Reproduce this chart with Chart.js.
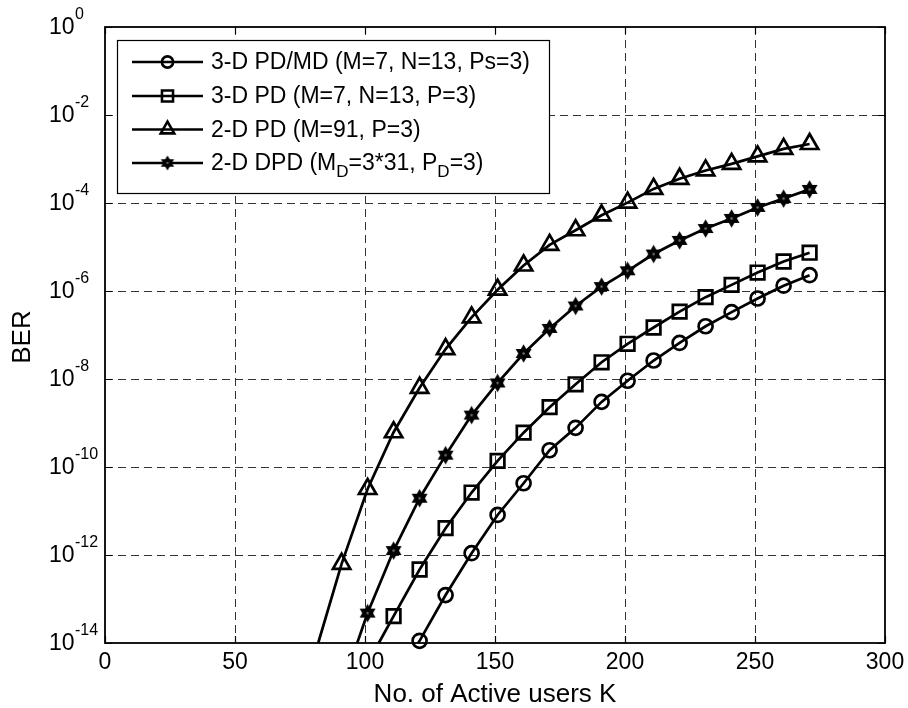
<!DOCTYPE html>
<html><head><meta charset="utf-8">
<script src="https://cdn.jsdelivr.net/npm/chart.js@4/dist/chart.umd.min.js"></script>
<style>
html,body{margin:0;padding:0;background:#fff;}
canvas{display:block;}
</style></head><body>
<canvas id="c" width="908" height="708"></canvas>
<script>
// ---------------- data ----------------
const FONT = '"Liberation Sans", Arial, Helvetica, sans-serif';

// 3-D PD/MD (M=7, N=13, Ps=3)  -- circles
const K_PDMD   = [121,131,141,151,161,171,181,191,201,211,221,231,241,251,261,271];
const BER_PDMD = [1.12e-14,1.23e-13,1.10e-12,8.13e-12,4.27e-11,2.40e-10,7.76e-10,3.02e-9,9.12e-9,2.63e-8,6.61e-8,1.58e-7,3.31e-7,6.76e-7,1.32e-6,2.29e-6];

// 3-D PD (M=7, N=13, P=3)  -- squares
const K_3DPD   = [111,121,131,141,151,161,171,181,191,201,211,221,231,241,251,261,271];
const BER_3DPD = [4.07e-14,4.68e-13,4.07e-12,2.63e-11,1.38e-10,6.03e-10,2.29e-9,7.59e-9,2.40e-8,6.31e-8,1.48e-7,3.39e-7,7.24e-7,1.38e-6,2.63e-6,4.68e-6,7.41e-6];

// 2-D PD (M=91, P=3)  -- triangles
const K_2DPD   = [91,101,111,121,131,141,151,161,171,181,191,201,211,221,231,241,251,261,271];
const BER_2DPD = [6.31e-13,3.16e-11,6.17e-10,6.31e-9,4.79e-8,2.51e-7,1.07e-6,3.80e-6,1.12e-5,2.40e-5,5.25e-5,1.02e-4,2.09e-4,3.55e-4,5.50e-4,7.76e-4,1.15e-3,1.70e-3,2.19e-3];

// 2-D DPD (M_D=3*31, P_D=3)  -- hexagrams
const K_2DDPD   = [101,111,121,131,141,151,161,171,181,191,201,211,221,231,241,251,261,271];
const BER_2DDPD = [4.79e-14,1.26e-12,1.95e-11,1.86e-10,1.51e-9,8.13e-9,3.80e-8,1.41e-7,4.57e-7,1.26e-6,2.88e-6,6.92e-6,1.41e-5,2.63e-5,4.47e-5,7.94e-5,1.26e-4,2.04e-4];

// K where each curve enters the plot through its floor (BER = 1e-14)
const ENTRY_K = [120.4, 105.3, 82, 97];
const BER_FLOOR = 1e-14;

const X_TICKS = [0,50,100,150,200,250,300];
const Y_TICK_EXP = [0,-2,-4,-6,-8,-10,-12,-14];
const X_TITLE = 'No. of Active users K';
const Y_TITLE = 'BER';
const LEGEND_PARTS = [
  [{t:'3-D PD/MD (M=7, N=13, Ps=3)'}],
  [{t:'3-D PD (M=7, N=13, P=3)'}],
  [{t:'2-D PD (M=91, P=3)'}],
  [{t:'2-D DPD (M'},{t:'D',sub:true},{t:'=3*31, P'},{t:'D',sub:true},{t:'=3)'}]
];

// ---------------- hexagram marker ----------------
function makeHexagram(R, lw){
  const s = Math.ceil(2*R + 2*lw + 2);
  const cv = document.createElement('canvas');
  cv.width = s; cv.height = s;
  const g = cv.getContext('2d');
  const c = s/2, r = R/Math.sqrt(3);
  g.beginPath();
  for(let i=0;i<6;i++){
    const ao = (-90 + 60*i)*Math.PI/180, ai = (-60 + 60*i)*Math.PI/180;
    const xo = c + R*Math.cos(ao), yo = c + R*Math.sin(ao);
    if(i===0) g.moveTo(xo,yo); else g.lineTo(xo,yo);
    g.lineTo(c + r*Math.cos(ai), c + r*Math.sin(ai));
  }
  g.closePath();
  g.lineJoin='miter';
  g.fillStyle='#000';
  g.fill();
  g.lineWidth = lw; g.strokeStyle='#000';
  g.stroke();
  g.fillStyle='#777';
  g.beginPath(); g.arc(c, c, R*0.16, 0, Math.PI*2); g.fill();
  return cv;
}
const HEX = makeHexagram(7.6, 1.6);
const HEX_SMALL = makeHexagram(6.2, 1.4);

const STYLES = [
  {pointStyle:'circle',   radius:7,   legend:'circle',   legendRadius:5.6},
  {pointStyle:'rect',     radius:9.6, legend:'rect',     legendRadius:7.8},
  {pointStyle:'triangle', radius:10,  legend:'triangle', legendRadius:7.8},
  {pointStyle:HEX,        radius:7.6, legend:HEX_SMALL,  legendRadius:6}
];

const SERIES = [
  [K_PDMD, BER_PDMD],
  [K_3DPD, BER_3DPD],
  [K_2DPD, BER_2DPD],
  [K_2DDPD, BER_2DDPD]
];

const datasets = SERIES.map((s, i) => {
  const pts = [{x: ENTRY_K[i], y: BER_FLOOR}].concat(s[0].map((k, j) => ({x: k, y: s[1][j]})));
  return {
    label: LEGEND_PARTS[i].map(p => p.t).join(''),
    data: pts,
    borderColor: '#000',
    borderWidth: 2.7,
    backgroundColor: 'rgba(0,0,0,0)',
    pointBackgroundColor: 'rgba(0,0,0,0)',
    pointBorderColor: '#000',
    pointBorderWidth: 2.7,
    pointStyle: STYLES[i].pointStyle,
    pointRadius: ctx => ctx.dataIndex === 0 ? 0 : STYLES[i].radius,
    pointHoverRadius: ctx => ctx.dataIndex === 0 ? 0 : STYLES[i].radius,
    tension: 0,
    fill: false,
    clip: false
  };
});

// ---------------- decoration plugin ----------------
const deco = {
  id: 'deco',
  beforeDatasetsDraw(chart){
    const {ctx, chartArea:a, scales:{x, y}} = chart;
    ctx.save();
    ctx.strokeStyle = '#333';
    ctx.lineWidth = 1;
    ctx.setLineDash([8,5]);
    X_TICKS.slice(1,-1).forEach(v => {
      const px = Math.round(x.getPixelForValue(v)) + 0.5;
      ctx.beginPath(); ctx.moveTo(px, a.top); ctx.lineTo(px, a.bottom); ctx.stroke();
    });
    Y_TICK_EXP.slice(1,-1).forEach(e => {
      const py = Math.round(y.getPixelForValue(Math.pow(10, e))) + 0.5;
      ctx.beginPath(); ctx.moveTo(a.left, py); ctx.lineTo(a.right, py); ctx.stroke();
    });
    ctx.restore();
  },
  afterDraw(chart){
    const {ctx, chartArea:a, scales:{x, y}} = chart;
    ctx.save();
    // frame
    ctx.strokeStyle = '#000';
    ctx.lineWidth = 1.8;
    ctx.setLineDash([]);
    ctx.strokeRect(a.left, a.top, a.right - a.left, a.bottom - a.top);
    // inward tick marks
    const TL = 7;
    ctx.lineWidth = 1.2;
    X_TICKS.forEach(v => {
      const px = Math.round(x.getPixelForValue(v)) + 0.5;
      ctx.beginPath();
      ctx.moveTo(px, a.bottom); ctx.lineTo(px, a.bottom - TL);
      ctx.moveTo(px, a.top); ctx.lineTo(px, a.top + TL);
      ctx.stroke();
    });
    Y_TICK_EXP.forEach(e => {
      const py = Math.round(y.getPixelForValue(Math.pow(10, e))) + 0.5;
      ctx.beginPath();
      ctx.moveTo(a.left, py); ctx.lineTo(a.left + TL, py);
      ctx.moveTo(a.right, py); ctx.lineTo(a.right - TL, py);
      ctx.stroke();
    });
    // tick labels
    ctx.fillStyle = '#000';
    ctx.textBaseline = 'middle';
    ctx.font = '23px ' + FONT;
    ctx.textAlign = 'center';
    X_TICKS.forEach(v => {
      ctx.fillText(String(v), x.getPixelForValue(v), a.bottom + 20);
    });
    Y_TICK_EXP.forEach(e => {
      const py = y.getPixelForValue(Math.pow(10, e));
      ctx.font = '23px ' + FONT;
      ctx.textAlign = 'right';
      ctx.fillText('10', a.left - 30.5, py + 1);
      ctx.font = '16px ' + FONT;
      ctx.textAlign = 'left';
      ctx.fillText(e === 0 ? '0' : '-' + Math.abs(e), a.left - 30, py - 12);
    });
    // axis titles
    ctx.font = '26px ' + FONT;
    ctx.textAlign = 'center';
    ctx.fillText(X_TITLE, (a.left + a.right)/2, 695);
    ctx.save();
    ctx.translate(23, (a.top + a.bottom)/2 + 2);
    ctx.rotate(-Math.PI/2);
    ctx.fillText(Y_TITLE, 0, 0);
    ctx.restore();

    // legend
    const L = {x0:117, y0:40, x1:549, y1:193};
    ctx.fillStyle = '#fff';
    ctx.fillRect(L.x0, L.y0, L.x1 - L.x0, L.y1 - L.y0);
    ctx.strokeStyle = '#000';
    ctx.lineWidth = 1.2;
    ctx.strokeRect(L.x0 + 0.5, L.y0 + 0.5, L.x1 - L.x0, L.y1 - L.y0);
    const rows = [62, 96, 129.5, 163];
    rows.forEach((ry, i) => {
      ctx.strokeStyle = '#000';
      ctx.lineWidth = 2.7;
      ctx.beginPath(); ctx.moveTo(132, ry); ctx.lineTo(203, ry); ctx.stroke();
      ctx.fillStyle = 'rgba(0,0,0,0)';
      ctx.lineWidth = 2.6;
      Chart.helpers.drawPoint(ctx, {pointStyle: STYLES[i].legend, radius: STYLES[i].legendRadius, rotation: 0, borderWidth: 2.6}, 167.5, ry);
      let tx = 211;
      ctx.fillStyle = '#000';
      ctx.textAlign = 'left';
      ctx.textBaseline = 'middle';
      LEGEND_PARTS[i].forEach(p => {
        if (p.sub) {
          ctx.font = '17px ' + FONT;
          ctx.fillText(p.t, tx, ry + 9);
        } else {
          ctx.font = '23px ' + FONT;
          ctx.fillText(p.t, tx, ry + 1);
        }
        tx += ctx.measureText(p.t).width;
      });
    });
    ctx.restore();
  }
};

new Chart(document.getElementById('c'), {
  type: 'line',
  data: { datasets },
  options: {
    responsive: false,
    animation: false,
    events: [],
    layout: { padding: { top: 27, right: 23, left: 0, bottom: 0 } },
    plugins: { legend: { display: false }, tooltip: { enabled: false } },
    scales: {
      x: {
        type: 'linear', min: 0, max: 300,
        grid: { display: false }, ticks: { display: false }, border: { display: false },
        afterFit: s => { s.height = 65; }
      },
      y: {
        type: 'logarithmic', min: 1e-14, max: 1,
        grid: { display: false }, ticks: { display: false }, border: { display: false },
        afterFit: s => { s.width = 105; }
      }
    }
  },
  plugins: [deco]
});
</script>
</body></html>
